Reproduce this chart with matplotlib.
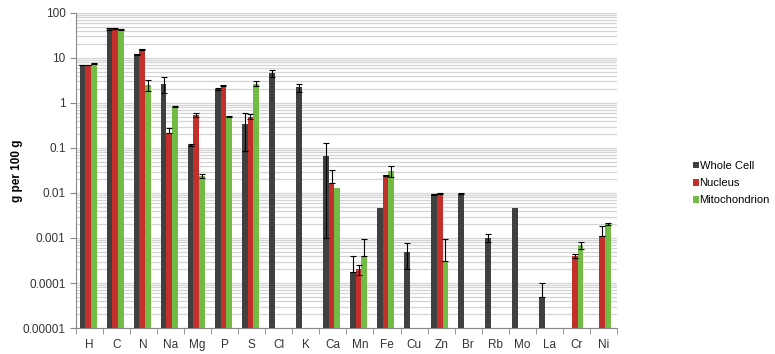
import matplotlib
matplotlib.use("Agg")
import matplotlib.pyplot as plt
import numpy as np
from matplotlib.ticker import LogLocator, NullFormatter

plt.rcParams["font.family"] = ["Liberation Sans", "DejaVu Sans"]

nan = np.nan
elements = ["H", "C", "N", "Na", "Mg", "P", "S", "Cl", "K", "Ca",
            "Mn", "Fe", "Cu", "Zn", "Br", "Rb", "Mo", "La", "Cr", "Ni"]

whole_cell = [7.0, 44, 12.1, 2.7, 0.117, 2.05, 0.336, 4.57, 2.23, 0.066,
              0.000179, 0.00457, 0.00048, 0.0093, 0.0096, 0.00102, 0.00457, 0.0000497, nan, nan]
nucleus = [7.0, 45.6, 15.6, 0.21, 0.54, 2.47, 0.50, nan, nan, 0.017,
           0.0002, 0.0247, nan, 0.0098, nan, nan, nan, nan, 0.0004, 0.0011]
mito = [7.5, 42, 2.5, 0.83, 0.024, 0.51, 2.7, nan, nan, 0.0129,
        0.0004, 0.0313, nan, 0.00031, nan, nan, nan, nan, 0.0007, 0.002]

# error bars (upper / lower); lower 0 where Excel drops the negative side
wc_err_up = [0.15, 1.5, 0.3, 1.0, 0.008, 0.08, 0.25, 0.85, 0.45, 0.065,
             0.00021, 0, 0.00028, 0.0004, 0.0002, 0.0002, 0, 0.00005, 0, 0]
wc_err_lo = [0.15, 1.5, 0.3, 1.0, 0.008, 0.08, 0.25, 0.85, 0.45, 0.065,
             0, 0, 0.00028, 0.0004, 0.0002, 0.0002, 0, 0, 0, 0]
nu_err_up = [0.1, 1.5, 0.4, 0.07, 0.05, 0.06, 0.06, 0, 0, 0.0155,
             0.00005, 0.0008, 0, 0.0003, 0, 0, 0, 0, 0.00004, 0.00075]
nu_err_lo = [0.1, 1.5, 0.4, 0.0, 0.05, 0.06, 0.06, 0, 0, 0,
             0.00005, 0.0008, 0, 0.0003, 0, 0, 0, 0, 0.00004, 0]
mi_err_up = [0.2, 1.0, 0.7, 0.03, 0.003, 0.01, 0.35, 0, 0, 0,
             0.00057, 0.009, 0, 0.00062, 0, 0, 0, 0, 0.00012, 0.0001]
mi_err_lo = [0.2, 1.0, 0.65, 0.03, 0.003, 0.01, 0.35, 0, 0, 0,
             0, 0.009, 0, 0, 0, 0, 0, 0, 0.00012, 0.0001]

ytick_vals = [1e-5, 1e-4, 1e-3, 1e-2, 1e-1, 1, 10, 100]
ytick_labels = ["0.00001", "0.0001", "0.001", "0.01", "0.1", "1", "10", "100"]

series = [
    ("Whole Cell", whole_cell, wc_err_lo, wc_err_up, "#404040"),
    ("Nucleus", nucleus, nu_err_lo, nu_err_up, "#c3302b"),
    ("Mitochondrion", mito, mi_err_lo, mi_err_up, "#72bb45"),
]

fig = plt.figure(figsize=(7.75, 3.54), dpi=100)
ax = fig.add_axes([0.098, 0.0734, 0.698, 0.89])

x = np.arange(len(elements))
w = 0.21
for k, (name, vals, lo, up, col) in enumerate(series):
    vals = np.array(vals, dtype=float)
    pos = x + (k - 1) * w - 0.05
    ax.bar(pos, vals, width=w, color=col, label=name, zorder=3)
    lo = np.array(lo, dtype=float)
    up = np.array(up, dtype=float)
    m = ~np.isnan(vals) & ((lo > 0) | (up > 0))
    ax.errorbar(pos[m], vals[m], yerr=[lo[m], up[m]], fmt="none",
                ecolor="black", elinewidth=0.8, capsize=2.2, capthick=0.8, zorder=4)

ax.set_yscale("log")
ax.set_ylim(1e-5, 100)
ax.set_xlim(-0.5, len(elements) - 0.5)
ax.set_yticks(ytick_vals)
ax.set_yticklabels(ytick_labels)
ax.yaxis.set_minor_locator(LogLocator(base=10, subs=np.arange(2, 10), numticks=10))
ax.yaxis.set_minor_formatter(NullFormatter())
ax.grid(True, which="both", axis="y", color="#d4d4d4", linewidth=0.9, zorder=0)
ax.set_axisbelow(True)

ax.set_xticks(x)
ax.set_xticklabels(elements, fontsize=8.5, color="#333333")
ax.set_xticks(np.arange(len(elements) + 1) - 0.5, minor=True)
ax.tick_params(axis="x", which="major", length=0, pad=8)
ax.tick_params(axis="x", which="minor", length=4, color="#888888")
ax.tick_params(axis="y", which="major", length=4, color="#888888", labelsize=8.5,
               labelcolor="#333333")
ax.tick_params(axis="y", which="minor", length=0)

for s in ["top", "right"]:
    ax.spines[s].set_visible(False)
for s in ["left", "bottom"]:
    ax.spines[s].set_color("#888888")

ax.set_ylabel("g per 100 g", fontsize=8.5, fontweight="bold")
ax.yaxis.set_label_coords(-0.097, 0.5)

ax.legend(loc="center left", bbox_to_anchor=(1.122, 0.46), frameon=False, fontsize=8,
          handlelength=0.55, handleheight=0.55, handletextpad=0.05, labelspacing=0.65)

fig.savefig("out.png", dpi=100)
